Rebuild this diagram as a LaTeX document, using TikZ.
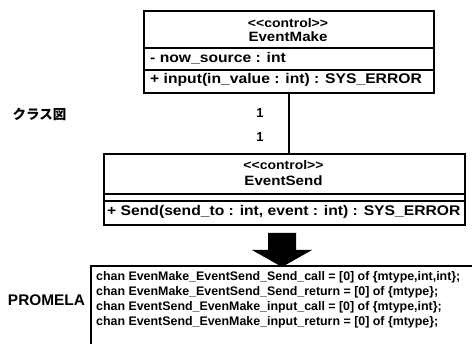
\documentclass[tikz,border=0pt]{standalone}
\usepackage{fontspec}
\setmainfont{Liberation Sans}
\newfontfamily\umlfont[FakeStretch=1.12]{Liberation Sans}
\newfontfamily\codefont{Liberation Sans}
\newfontfamily\cjk{Noto Sans CJK JP}
\begin{document}
\begin{tikzpicture}[x=1pt,y=-1pt,
  comp/.style={draw, line width=1.7pt, rectangle, inner sep=0pt, anchor=north west},
  stereo/.style={font=\umlfont\bfseries\fontsize{12.5}{14}\selectfont, inner sep=0pt},
  cname/.style={font=\umlfont\bfseries\fontsize{13.5}{14}\selectfont, inner sep=0pt},
  member/.style={font=\umlfont\bfseries\fontsize{14}{15}\selectfont, inner sep=0pt, anchor=west},
  mult/.style={font=\bfseries\fontsize{13}{14}\selectfont, inner sep=0pt},
  conn/.style={line width=1.5pt},
  code/.style={font=\codefont\bfseries\fontsize{12.4}{13}\selectfont, inner sep=0pt, anchor=west},
  side/.style={inner sep=0pt}
]
\useasboundingbox (0,0) rectangle (472,344);

% EventMake class
\node[comp, minimum width=290pt, minimum height=37pt] (mkhead) at (143,10) {};
\node[comp, minimum width=290pt, minimum height=22pt] (mkattr) at (143,47) {};
\node[comp, minimum width=290pt, minimum height=23pt] (mkop) at (143,69) {};
\node[stereo] (mkst) at (288,23) {<\kern0pt<control>\kern0pt>};
\node[cname] (mkname) at (288,37) {EventMake};
\node[member] (mka) at (150,58) {- now\_source : int};
\node[member] (mko) at (150,80) {+ input(in\_value : int) : SYS\_ERROR};

% EventSend class
\node[comp, minimum width=361pt, minimum height=40pt] (sdhead) at (103,153) {};
\node[comp, minimum width=361pt, minimum height=7pt] (sdattr) at (103,193) {};
\node[comp, minimum width=361pt, minimum height=24pt] (sdop) at (103,200) {};
\node[stereo] (sdst) at (283.5,165) {<\kern0pt<control>\kern0pt>};
\node[cname] (sdname) at (283.5,181) {EventSend};
\node[member] (sdo) at (107,212) {+ Send(send\_to : int, event : int) : SYS\_ERROR};

% association
\draw[conn] (mkop.south) -- (mkop.south |- sdhead.north);
\node[mult] (m1) at (260,113) {1};
\node[mult] (m2) at (260,137) {1};

% side labels
\node[side, font=\cjk\bfseries\fontsize{13.5}{14}\selectfont] (cls) at (39.5,114) {クラス図};
\node[side, font=\bfseries\fontsize{15.4}{16}\selectfont] (prom) at (46.5,300) {PROMELA};

% big arrow
\fill (268,233) -- (296,233) -- (296,250) -- (312,250) -- (282,267) -- (252,250) -- (268,250) -- cycle;

% PROMELA code block
\draw[line width=1.3pt] (472,266) -- (91,266) -- (91,344);
\node[code] (c1) at (96,277) {chan EvenMake\_EventSend\_Send\_call = [0] of \{mtype,int,int\};};
\node[code] (c2) at (96,292) {chan EvenMake\_EventSend\_Send\_return = [0] of \{mtype\};};
\node[code] (c3) at (96,307) {chan EventSend\_EvenMake\_input\_call = [0] of \{mtype,int\};};
\node[code] (c4) at (96,322) {chan EventSend\_EvenMake\_input\_return = [0] of \{mtype\};};
\end{tikzpicture}
\end{document}
